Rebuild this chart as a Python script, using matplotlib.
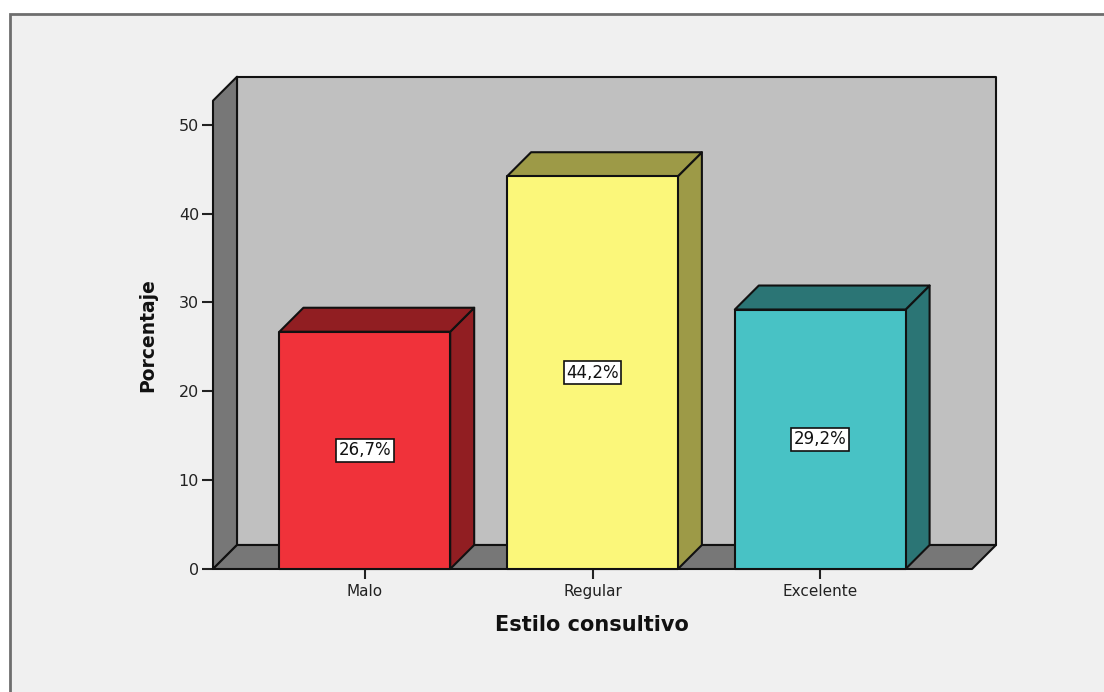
import matplotlib
matplotlib.use("Agg")
import matplotlib.pyplot as plt
from matplotlib.patches import Polygon, Rectangle

categorias = ["Malo", "Regular", "Excelente"]
porcentajes = [26.7, 44.2, 29.2]
etiquetas = ["26,7%", "44,2%", "29,2%"]
y_ticks = [0, 10, 20, 30, 40, 50]

frente = ["#f0323a", "#fbf77a", "#48c2c5"]
lado = ["#911e22", "#9d9a47", "#2b7575"]

W, H = 1104, 692
fig = plt.figure(figsize=(W / 100, H / 100), dpi=100)
fig.patch.set_facecolor("white")

# marco exterior gris claro
fig.patches.append(Rectangle((10 / W, -0.1), 1.2, (H - 14) / H + 0.1,
                             transform=fig.transFigure, facecolor="#f0f0f0",
                             edgecolor="#6e6e6e", lw=2, zorder=-5))

# ejes = plano frontal del grafico 3D
x0, y0, aw, ah = 213, 569, 759, 468.3
ax = fig.add_axes([x0 / W, (H - y0) / H, aw / W, ah / H])
ax.set_zorder(2)
ax.set_facecolor("none")
xl, xr = -2 / 3, 2 + 2 / 3
ymax = 52.7
ax.set_xlim(xl, xr)
ax.set_ylim(0, ymax)

# profundidad en unidades de datos (24 px)
dx = 24 * (xr - xl) / aw
dy = 24 * ymax / ah

def poly(pts, fc, z):
    p = Polygon(pts, closed=True, facecolor=fc, edgecolor="#111111",
                lw=1.5, joinstyle="round", clip_on=False, zorder=z)
    ax.add_patch(p)

# pared de fondo, pared lateral y suelo
poly([(xl + dx, dy), (xr + dx, dy), (xr + dx, ymax + dy), (xl + dx, ymax + dy)], "#c0c0c0", 1)
poly([(xl, 0), (xl + dx, dy), (xl + dx, ymax + dy), (xl, ymax)], "#777777", 2)
poly([(xl, 0), (xr, 0), (xr + dx, dy), (xl + dx, dy)], "#777777", 2)

bw = 0.75
for i, v in enumerate(porcentajes):
    a, b = i - bw / 2, i + bw / 2
    poly([(b, 0), (b + dx, dy), (b + dx, v + dy), (b, v)], lado[i], 3)
    poly([(a, v), (b, v), (b + dx, v + dy), (a + dx, v + dy)], lado[i], 3)
    poly([(a, 0), (b, 0), (b, v), (a, v)], frente[i], 4)
    ax.text(i, v / 2, etiquetas[i], ha="center", va="center", fontsize=12,
            color="#111111", zorder=6,
            bbox=dict(boxstyle="square,pad=0.15", facecolor="white",
                      edgecolor="#111111", lw=1.2))

for s in ax.spines.values():
    s.set_visible(False)
ax.set_xticks(range(len(categorias)))
ax.set_xticklabels(categorias)
ax.set_yticks(y_ticks)
ax.tick_params(axis="y", length=8, width=1.5, color="#222222", labelsize=11.5,
               labelcolor="#222222", pad=2)
ax.tick_params(axis="x", length=7, width=1.5, color="#222222", labelsize=11,
               labelcolor="#222222", pad=4)

fig.text(592 / W, 1 - 625 / H, "Estilo consultivo", ha="center", va="center",
         fontsize=15, fontweight="bold", color="#111111")
fig.text(148 / W, 1 - 335 / H, "Porcentaje", ha="center", va="center",
         rotation=90, fontsize=13.5, fontweight="bold", color="#111111")

fig.savefig("out.png", dpi=100)
